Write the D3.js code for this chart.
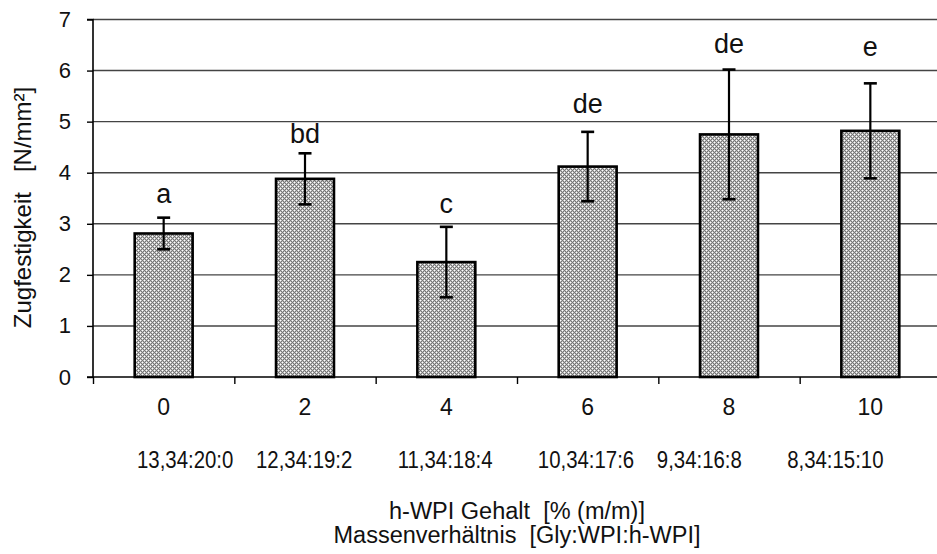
<!DOCTYPE html>
<html>
<head>
<meta charset="utf-8">
<script src="https://cdn.jsdelivr.net/npm/d3@7"></script>
<style>
  html, body { margin: 0; padding: 0; background: #fff; }
  svg { display: block; font-family: "Liberation Sans", Arial, sans-serif; }
</style>
</head>
<body>
<svg id="chart" width="937" height="554"></svg>
<script>
// h-WPI content (% m/m) and the matching mass ratio Gly:WPI:h-WPI
const categories = ["0", "2", "4", "6", "8", "10"];
const ratios = ["13,34:20:0", "12,34:19:2", "11,34:18:4", "10,34:17:6", "9,34:16:8", "8,34:15:10"];
// tensile strength, mean and standard deviation (N/mm²)
const means = [2.81, 3.88, 2.25, 4.12, 4.75, 4.82];
const sds = [0.31, 0.50, 0.69, 0.68, 1.27, 0.93];
// significance groups and the value height at which each letter sits
const letters = ["a", "bd", "c", "de", "de", "e"];
const letterAt = [3.41, 4.58, 3.21, 5.16, 6.34, 6.29];
const yTicks = [0, 1, 2, 3, 4, 5, 6, 7];

const svg = d3.select("#chart");
const plotLeft = 93, plotRight = 941, plotTop = 19.5, plotBottom = 377;

const x = d3.scaleBand().domain(categories).range([plotLeft, plotRight])
  .paddingInner(0.59).paddingOuter(0.295);
const xEdge = d3.scaleLinear().domain([0, categories.length]).range([plotLeft, plotRight]);
const y = d3.scaleLinear().domain([0, 7]).range([plotBottom, plotTop]);

// bar fill: grey grid of small light crosses
const defs = svg.append("defs");
const pat = defs.append("pattern").attr("id", "grid")
  .attr("patternUnits", "userSpaceOnUse").attr("width", 4).attr("height", 4);
pat.append("rect").attr("width", 4).attr("height", 4).attr("fill", "#767676");
[[0,0],[2,2]].forEach(([cx, cy]) => {
  pat.append("rect").attr("x", cx).attr("y", cy).attr("width", 1).attr("height", 1).attr("fill", "#ffffff");
  [[1,0],[-1,0],[0,1],[0,-1]].forEach(([dx, dy]) => {
    pat.append("rect").attr("x", (cx + dx + 4) % 4).attr("y", (cy + dy + 4) % 4)
      .attr("width", 1).attr("height", 1).attr("fill", "#c0c0c0");
  });
});

// horizontal grid lines
svg.append("g").selectAll("line").data(yTicks.filter(d => d > 0)).join("line")
  .attr("x1", plotLeft).attr("x2", 937)
  .attr("y1", d => y(d)).attr("y2", d => y(d))
  .attr("stroke", "#444").attr("stroke-width", 1.4);

// y axis
const yAxis = svg.append("g").attr("transform", `translate(${plotLeft},0)`)
  .call(d3.axisLeft(y).tickValues(yTicks).tickSize(6).tickPadding(16).tickFormat(d3.format("d")));
yAxis.select(".domain").attr("stroke", "#000").attr("stroke-width", 1.6).attr("d", `M-6,${plotTop}H0V${plotBottom}H-6`);
yAxis.selectAll(".tick line").attr("stroke", "#000").attr("stroke-width", 1.4);
yAxis.selectAll(".tick text").attr("font-size", 22).attr("fill", "#111")
  .attr("font-family", "Liberation Sans, Arial, sans-serif");

// bars
svg.append("g").selectAll("rect").data(categories).join("rect")
  .attr("x", d => x(d)).attr("width", x.bandwidth())
  .attr("y", (d, i) => y(means[i])).attr("height", (d, i) => y(0) - y(means[i]))
  .attr("fill", "url(#grid)").attr("stroke", "#000").attr("stroke-width", 2.6);

// x axis line with ticks on the category boundaries
const xAxis = svg.append("g").attr("transform", `translate(0,${plotBottom})`)
  .call(d3.axisBottom(xEdge).tickValues(d3.range(categories.length + 1)).tickSize(7).tickFormat(""));
xAxis.select(".domain").attr("stroke", "#000").attr("stroke-width", 1.6).attr("d", `M${plotLeft},0H${plotRight}`);
xAxis.selectAll(".tick line").attr("stroke", "#000").attr("stroke-width", 1.4);

// category labels
svg.append("g").selectAll("text").data(categories).join("text")
  .attr("x", d => x(d) + x.bandwidth() / 2).attr("y", 415)
  .attr("text-anchor", "middle").attr("font-size", 23).attr("fill", "#111")
  .text(d => d);

// error bars
const eb = svg.append("g").attr("stroke", "#000");
categories.forEach((c, i) => {
  const cx = x(c) + x.bandwidth() / 2;
  eb.append("line").attr("x1", cx).attr("x2", cx)
    .attr("y1", y(means[i] + sds[i])).attr("y2", y(means[i] - sds[i])).attr("stroke-width", 2.2);
  [means[i] + sds[i], means[i] - sds[i]].forEach(v => {
    eb.append("line").attr("x1", cx - 6.5).attr("x2", cx + 6.5)
      .attr("y1", y(v)).attr("y2", y(v)).attr("stroke-width", 2.6);
  });
});

// significance letters
svg.append("g").selectAll("text").data(letters).join("text")
  .attr("x", (d, i) => x(categories[i]) + x.bandwidth() / 2)
  .attr("y", (d, i) => y(letterAt[i]))
  .attr("text-anchor", "middle").attr("font-size", 27).attr("fill", "#111")
  .text(d => d);

// mass ratio line under the category labels
svg.append("text").attr("transform", "translate(137,468) scale(1,1.15)")
  .attr("font-size", 20.4).attr("fill", "#111").style("white-space", "pre")
  .text(ratios.map((r, i) => r + (i < ratios.length - 1 ? " ".repeat([4, 8, 8, 4, 8][i]) : "")).join(""));

// axis titles
svg.append("text").attr("x", 517).attr("y", 519).attr("text-anchor", "middle")
  .attr("font-size", 23.5).attr("fill", "#111").style("white-space", "pre")
  .text("h-WPI Gehalt  [% (m/m)]");
svg.append("text").attr("x", 517).attr("y", 543).attr("text-anchor", "middle")
  .attr("font-size", 23.5).attr("fill", "#111").style("white-space", "pre")
  .text("Massenverhältnis  [Gly:WPI:h-WPI]");
svg.append("text").attr("transform", "translate(31,207.5) rotate(-90)")
  .attr("text-anchor", "middle").attr("font-size", 24).attr("fill", "#111").style("white-space", "pre")
  .text("Zugfestigkeit   [N/mm²]");
</script>
</body>
</html>
